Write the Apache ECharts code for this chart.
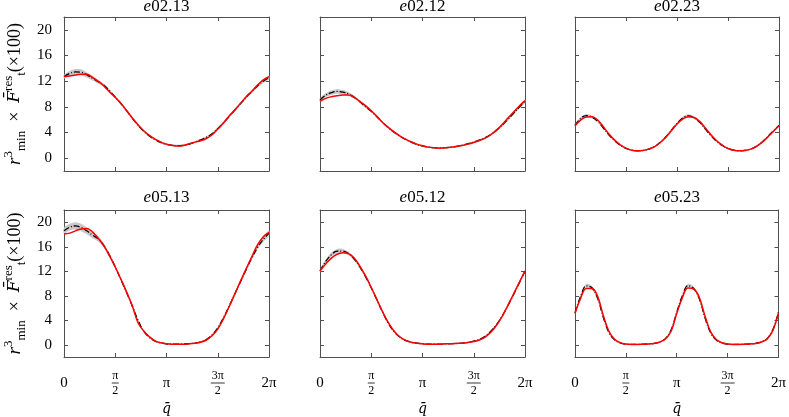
<!DOCTYPE html>
<html>
<head>
<meta charset="utf-8">
<script src="https://cdn.jsdelivr.net/npm/echarts@6/dist/echarts.min.js"></script>
<style>
html, body { margin: 0; padding: 0; background: #fff; }
#chart { width: 789px; height: 417px; }
</style>
</head>
<body>
<div id="chart"></div>
<script>
/* 取樣點（角度） */
const qDeg = [0, 10, 20, 30, 40, 50, 60, 70, 80, 90, 100, 110, 120, 130, 140, 150, 160, 170, 180,
	190, 200, 210, 220, 230, 240, 250, 260, 270, 280, 290, 300, 310, 320, 330, 340, 350, 360];

const panelNames = ["02.13", "02.12", "02.23", "05.13", "05.12", "05.23"];
const xTickLabels = ["0", "{n|π}\n{b1|}\n{d|2}", "π", "{n|3π}\n{b2|}\n{d|2}", "2π"];
const yTickValues = [0, 4, 8, 12, 16, 20];

/* e02.13 */
const red0213 = [12.71, 12.81, 12.97, 13.07, 13.07, 12.6, 11.98, 11.25, 10.31, 9.48, 8.54, 7.4, 6.25, 5.21, 4.27, 3.54, 2.97, 2.5, 2.19,
	1.98, 1.88, 1.98, 2.24, 2.5, 2.71, 3.07, 3.65, 4.53, 5.47, 6.56, 7.5, 8.54, 9.58, 10.42, 11.41, 12.19, 12.71];
const black0213 = [12.71, 13.2, 13.44, 13.39, 12.97, 12.45, 11.93, 11.35, 10.5, 9.5, 8.5, 7.4, 6.2, 5.15, 4.2, 3.45, 2.9, 2.45, 2.15,
	2.0, 1.95, 2.0, 2.2, 2.5, 2.85, 3.25, 3.8, 4.6, 5.5, 6.5, 7.5, 8.5, 9.5, 10.4, 11.3, 12.0, 12.55];
const half0213 = [0.3, 0.4, 0.45, 0.45, 0.4, 0.35, 0.3, 0.25, 0.2, 0.2, 0.2, 0.15, 0.15, 0.15, 0.15, 0.15, 0.15, 0.15, 0.15,
	0.15, 0.15, 0.15, 0.15, 0.15, 0.15, 0.15, 0.15, 0.2, 0.2, 0.2, 0.2, 0.2, 0.25, 0.25, 0.3, 0.3, 0.3];

/* e02.12 */
const red0212 = [8.85, 9.32, 9.58, 9.74, 9.84, 9.84, 9.48, 8.85, 8.18, 7.4, 6.51, 5.57, 4.79, 4.11, 3.49, 2.97, 2.55, 2.19, 1.93,
	1.72, 1.61, 1.56, 1.61, 1.72, 1.82, 1.98, 2.19, 2.45, 2.76, 3.13, 3.65, 4.38, 5.26, 6.25, 7.19, 8.13, 8.96];
const black0212 = [9.06, 9.8, 10.2, 10.4, 10.3, 10.0, 9.5, 8.8, 8.0, 7.3, 6.45, 5.55, 4.75, 4.05, 3.45, 2.95, 2.5, 2.15, 1.9,
	1.72, 1.63, 1.6, 1.63, 1.72, 1.85, 2.02, 2.25, 2.5, 2.82, 3.2, 3.7, 4.35, 5.15, 6.05, 7.0, 7.95, 8.85];
const half0212 = [0.25, 0.3, 0.35, 0.35, 0.35, 0.3, 0.25, 0.2, 0.2, 0.15, 0.15, 0.15, 0.15, 0.15, 0.12, 0.12, 0.12, 0.12, 0.12,
	0.12, 0.12, 0.12, 0.12, 0.12, 0.12, 0.12, 0.12, 0.15, 0.15, 0.15, 0.15, 0.2, 0.2, 0.2, 0.2, 0.25, 0.25];

/* e02.23 */
const red0223 = [5.05, 5.94, 6.41, 6.46, 5.94, 4.9, 3.75, 2.81, 2.08, 1.56, 1.25, 1.15, 1.2, 1.41, 1.77, 2.4, 3.23, 4.27, 5.31,
	6.09, 6.46, 6.35, 5.73, 4.69, 3.65, 2.71, 2.03, 1.51, 1.25, 1.15, 1.2, 1.41, 1.82, 2.45, 3.28, 4.17, 5.05];
const black0223 = [5.1, 6.2, 6.62, 6.4, 5.75, 4.7, 3.6, 2.7, 2.0, 1.52, 1.24, 1.15, 1.2, 1.42, 1.8, 2.45, 3.3, 4.35, 5.4,
	6.25, 6.6, 6.3, 5.6, 4.55, 3.5, 2.6, 1.97, 1.5, 1.24, 1.15, 1.2, 1.42, 1.85, 2.5, 3.35, 4.25, 5.1];
const half0223 = [0.15, 0.2, 0.25, 0.2, 0.15, 0.12, 0.1, 0.1, 0.1, 0.1, 0.1, 0.1, 0.1, 0.1, 0.1, 0.1, 0.12, 0.15, 0.18,
	0.22, 0.25, 0.2, 0.15, 0.12, 0.1, 0.1, 0.1, 0.1, 0.1, 0.1, 0.1, 0.1, 0.1, 0.1, 0.12, 0.15, 0.15];

/* e05.13 */
const red0513 = [18.07, 18.22, 18.59, 18.9, 19.0, 18.43, 17.39, 16.14, 14.52, 12.69, 10.7, 8.62, 6.32, 3.6, 2.25, 1.31, 0.63, 0.31, 0.16,
	0.1, 0.1, 0.1, 0.16, 0.26, 0.42, 0.78, 1.46, 2.56, 4.23, 6.21, 8.3, 10.39, 12.43, 14.41, 16.34, 17.65, 18.33];
const black0513 = [18.6, 19.2, 19.4, 19.15, 18.6, 17.9, 17.3, 16.2, 14.6, 12.7, 10.6, 8.5, 6.3, 4.0, 2.2, 1.2, 0.6, 0.3, 0.15,
	0.1, 0.1, 0.12, 0.18, 0.28, 0.45, 0.85, 1.6, 2.75, 4.4, 6.3, 8.3, 10.3, 12.3, 14.2, 15.9, 17.2, 18.2];
const half0513 = [0.5, 0.55, 0.6, 0.6, 0.55, 0.5, 0.45, 0.35, 0.3, 0.25, 0.2, 0.2, 0.2, 0.2, 0.15, 0.12, 0.1, 0.1, 0.1,
	0.1, 0.1, 0.1, 0.1, 0.1, 0.1, 0.12, 0.15, 0.2, 0.2, 0.25, 0.25, 0.25, 0.3, 0.3, 0.35, 0.4, 0.45];

/* e05.12 */
const red0512 = [12.06, 13.2, 14.15, 14.78, 15.04, 14.88, 14.15, 12.85, 11.23, 9.35, 7.36, 5.38, 3.6, 2.25, 1.31, 0.73, 0.42, 0.26, 0.16,
	0.1, 0.1, 0.1, 0.16, 0.16, 0.21, 0.26, 0.37, 0.52, 0.78, 1.25, 2.04, 3.19, 4.65, 6.42, 8.3, 10.18, 12.06];
const black0512 = [12.06, 13.6, 14.7, 15.3, 15.3, 14.9, 14.0, 12.7, 11.1, 9.3, 7.3, 5.3, 3.5, 2.15, 1.25, 0.7, 0.4, 0.25, 0.15,
	0.1, 0.1, 0.1, 0.14, 0.17, 0.22, 0.28, 0.4, 0.58, 0.88, 1.4, 2.2, 3.3, 4.7, 6.4, 8.2, 10.1, 12.0];
const half0512 = [0.2, 0.3, 0.35, 0.35, 0.35, 0.3, 0.3, 0.25, 0.2, 0.2, 0.15, 0.15, 0.15, 0.12, 0.1, 0.1, 0.1, 0.1, 0.1,
	0.1, 0.1, 0.1, 0.1, 0.1, 0.1, 0.1, 0.1, 0.1, 0.1, 0.12, 0.15, 0.15, 0.15, 0.2, 0.2, 0.2, 0.2];

/* e05.23 */
const red0523 = [5.1, 7.6, 9.2, 9.2, 7.9, 4.8, 2.2, 0.9, 0.35, 0.12, 0.05, 0.05, 0.08, 0.14, 0.22, 0.45, 0.95, 2.2, 5.1,
	7.7, 9.25, 9.1, 7.7, 4.7, 2.1, 0.85, 0.32, 0.12, 0.05, 0.05, 0.08, 0.13, 0.22, 0.45, 0.95, 2.3, 5.2];
const black0523 = [5.2, 7.9, 9.6, 9.3, 7.6, 4.5, 2.0, 0.8, 0.3, 0.1, 0.05, 0.05, 0.08, 0.14, 0.22, 0.45, 1.0, 2.4, 5.3,
	8.0, 9.65, 9.2, 7.5, 4.4, 1.95, 0.78, 0.3, 0.1, 0.05, 0.05, 0.08, 0.13, 0.22, 0.45, 1.0, 2.45, 5.3];
const half0523 = [0.15, 0.25, 0.3, 0.3, 0.2, 0.15, 0.12, 0.1, 0.1, 0.1, 0.1, 0.1, 0.1, 0.1, 0.1, 0.1, 0.1, 0.12, 0.15,
	0.25, 0.3, 0.3, 0.2, 0.15, 0.12, 0.1, 0.1, 0.1, 0.1, 0.1, 0.1, 0.1, 0.1, 0.1, 0.1, 0.12, 0.15];

const redLines = [red0213, red0212, red0223, red0513, red0512, red0523];
const blackLines = [black0213, black0212, black0223, black0513, black0512, black0523];
const bandHalves = [half0213, half0212, half0223, half0513, half0512, half0523];

/* 版面 */
const colLeft = [64, 320, 575];
const colWidth = [205, 205, 204];
const rowTop = [17, 210];
const rowHeight = [154, 153];
const titleTop = [-2, 189];
const serif = '"Liberation Serif", "DejaVu Serif", serif';
const accentSerif = '"DejaVu Serif", serif';
const frameColor = "#505050";

const chart = echarts.init(document.getElementById("chart"));
const halfPi = Math.PI / 2;
const xTickValues = [0, 1, 2, 3, 4].map((k) => k * halfPi);
const toRad = (d) => (d * Math.PI) / 180;

const grid = [];
const xAxis = [];
const yAxis = [];
const title = [];
const series = [];

panelNames.forEach((name, k) => {
	const row = Math.floor(k / 3);
	const col = k % 3;
	grid.push({
		left: colLeft[col],
		top: rowTop[row],
		width: colWidth[col],
		height: rowHeight[row],
		show: false,
	});
	title.push({
		text: "{i|e}" + name,
		left: colLeft[col] + colWidth[col] / 2,
		top: titleTop[row],
		textAlign: "center",
		padding: 0,
		textStyle: {
			fontFamily: serif,
			fontSize: 17,
			fontWeight: "normal",
			color: "#000",
			rich: {
				i: { fontFamily: serif, fontSize: 17, fontStyle: "italic", color: "#000" },
			},
		},
	});
	const tickStyle = { color: frameColor, width: 1 };
	xAxis.push({
		gridIndex: k,
		type: "value",
		min: 0,
		max: 2 * Math.PI,
		position: "bottom",
		axisLine: { onZero: false, lineStyle: tickStyle },
		axisTick: { inside: true, length: 4, customValues: xTickValues, lineStyle: tickStyle },
		splitLine: { show: false },
		axisLabel: {
			show: row === 1,
			customValues: xTickValues,
			margin: 26,
			verticalAlign: "middle",
			fontFamily: serif,
			fontSize: 15,
			color: "#000",
			formatter: (v) => xTickLabels[Math.round(v / halfPi)],
			rich: {
				n: { fontFamily: serif, fontSize: 12, lineHeight: 12, align: "center", color: "#000" },
				d: { fontFamily: serif, fontSize: 12, lineHeight: 12, align: "center", color: "#000" },
				b1: { width: 7, height: 0.8, lineHeight: 3, backgroundColor: "#000", align: "center" },
				b2: { width: 14, height: 0.8, lineHeight: 3, backgroundColor: "#000", align: "center" },
			},
		},
		name: row === 1 ? "q\u0304" : "",
		nameLocation: "middle",
		nameGap: 45,
		nameTextStyle: { fontFamily: accentSerif, fontSize: 14, fontStyle: "italic", color: "#000" },
	});
	xAxis.push({
		gridIndex: k,
		type: "value",
		min: 0,
		max: 2 * Math.PI,
		position: "top",
		axisLine: { onZero: false, lineStyle: tickStyle },
		axisTick: { inside: true, length: 4, customValues: xTickValues, lineStyle: tickStyle },
		axisLabel: { show: false },
		splitLine: { show: false },
	});
	yAxis.push({
		gridIndex: k,
		type: "value",
		min: -2,
		max: 22,
		position: "left",
		axisLine: { show: true, onZero: false, lineStyle: tickStyle },
		axisTick: { show: true, inside: true, length: 4, customValues: yTickValues, lineStyle: tickStyle },
		splitLine: { show: false },
		axisLabel: {
			show: col === 0,
			customValues: yTickValues,
			margin: 12,
			fontFamily: serif,
			fontSize: 15,
			color: "#000",
		},
		name: col === 0 ? "{i|r}{sup|3}{sub|min}{m|  ×  }{f|F\u0304}{sup|res}{sub|t}{m|(×100)}" : "",
		nameLocation: "middle",
		nameRotate: 90,
		nameGap: 36,
		nameTextStyle: {
			fontFamily: serif,
			fontSize: 18,
			lineHeight: 26,
			color: "#000",
			rich: {
				i: { fontFamily: serif, fontSize: 19, fontStyle: "italic", lineHeight: 26, color: "#000" },
				f: { fontFamily: accentSerif, fontSize: 17, fontStyle: "italic", lineHeight: 26, color: "#000" },
				m: { fontFamily: serif, fontSize: 18, lineHeight: 26, color: "#000" },
				sup: { fontFamily: serif, fontSize: 13, lineHeight: 12, verticalAlign: "top", color: "#000" },
				sub: { fontFamily: serif, fontSize: 13, lineHeight: 12, verticalAlign: "bottom", color: "#000" },
			},
		},
	});
	yAxis.push({
		gridIndex: k,
		type: "value",
		min: -2,
		max: 22,
		position: "right",
		axisLine: { show: true, onZero: false, lineStyle: tickStyle },
		axisTick: { show: true, inside: true, length: 4, customValues: yTickValues, lineStyle: tickStyle },
		axisLabel: { show: false },
		splitLine: { show: false },
	});

	const black = blackLines[k];
	const half = bandHalves[k];
	/* 灰色範圍帶 */
	series.push({
		type: "custom",
		xAxisIndex: 2 * k,
		yAxisIndex: 2 * k,
		silent: true,
		data: [0],
		renderItem: (params, api) => {
			const upper = qDeg.map((d, i) => api.coord([toRad(d), black[i] + half[i]]));
			const lower = qDeg.map((d, i) => api.coord([toRad(d), black[i] - half[i]])).reverse();
			return {
				type: "polygon",
				shape: { points: upper.concat(lower), smooth: 0.3 },
				style: { fill: "#c8c8c8" },
			};
		},
	});
	const base = {
		type: "line",
		xAxisIndex: 2 * k,
		yAxisIndex: 2 * k,
		symbol: "none",
		smooth: 0.4,
		silent: true,
	};
	/* 黑色虛線 */
	series.push(Object.assign({}, base, {
		lineStyle: { color: "#000", width: 1.3, type: [6, 2, 1, 2] },
		data: qDeg.map((d, i) => [toRad(d), black[i]]),
	}));
	/* 紅色實線 */
	series.push(Object.assign({}, base, {
		lineStyle: { color: "#ff0000", width: 1.5 },
		data: qDeg.map((d, i) => [toRad(d), redLines[k][i]]),
	}));
});

chart.setOption({
	backgroundColor: "#fff",
	animation: false,
	title,
	grid,
	xAxis,
	yAxis,
	series,
});
</script>
</body>
</html>
